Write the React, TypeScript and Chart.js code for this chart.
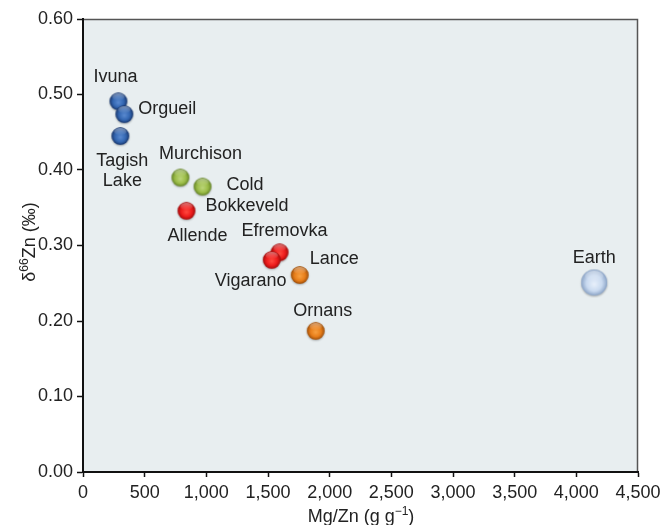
import React, { useEffect, useRef } from "react";
import { Chart, registerables } from "chart.js";

Chart.register(...registerables);

// ---- data ----
const names = ["Ivuna", "Orgueil", "Tagish Lake", "Murchison", "Cold Bokkeveld", "Allende", "Efremovka", "Vigarano", "Lance", "Ornans", "Earth"];
const mgZn = [287, 335, 303, 790, 969, 839, 1594, 1530, 1757, 1887, 4145];
const d66Zn = [0.491, 0.474, 0.445, 0.39, 0.378, 0.346, 0.291, 0.281, 0.261, 0.187, 0.251];
const groups = ["CI", "CI", "CI", "CM", "CM", "CV", "CV", "CV", "CO", "CO", "Earth"];
const xTicks = [0, 500, 1000, 1500, 2000, 2500, 3000, 3500, 4000, 4500];
const yTicks = [0, 0.1, 0.2, 0.3, 0.4, 0.5, 0.6];

// ---- styles ----
const groupColors: Record<string, { light: string; base: string; dark: string; r: number }> = {
  CI: { light: "#5a8ad0", base: "#3467b2", dark: "#1c3c74", r: 8.8 },
  CM: { light: "#bcd67a", base: "#9cbd48", dark: "#6a8a2a", r: 8.8 },
  CV: { light: "#ff4a40", base: "#ee1c1c", dark: "#a80d0d", r: 8.8 },
  CO: { light: "#f8a040", base: "#e87e1a", dark: "#a4520a", r: 8.8 },
  Earth: { light: "#e8f0fb", base: "#c9daf0", dark: "#8ea6c8", r: 13 },
};
const labelCfg = [
  { lines: ["Ivuna"], dx: -3, dy: -24, align: "center" },
  { lines: ["Orgueil"], dx: 14, dy: -5, align: "left" },
  { lines: ["Tagish", "Lake"], dx: 2, dy: 25, align: "center" },
  { lines: ["Murchison"], dx: 20, dy: -24, align: "center" },
  { lines: ["Cold", "Bokkeveld"], dx: 24, dy: -2, align: "left", alt: [0, 21] },
  { lines: ["Allende"], dx: 11, dy: 25, align: "center" },
  { lines: ["Efremovka"], dx: 5, dy: -21, align: "center" },
  { lines: ["Vigarano"], dx: -21, dy: 21, align: "center" },
  { lines: ["Lance"], dx: 10, dy: -16, align: "left" },
  { lines: ["Ornans"], dx: 7, dy: -20, align: "center" },
  { lines: ["Earth"], dx: 0, dy: -24, align: "center" },
];
const FONT = '"Liberation Sans", Arial, Helvetica, sans-serif';
const TEXT = "#222222";

function makeBall(g: { light: string; base: string; dark: string; r: number }) {
  const r = g.r;
  const size = Math.ceil(2 * r + 6);
  const c = document.createElement("canvas");
  c.width = size;
  c.height = size;
  const ctx = c.getContext("2d")!;
  const cx = size / 2;
  const cy = size / 2;
  ctx.save();
  ctx.shadowColor = "rgba(0,0,0,0.3)";
  ctx.shadowBlur = 2;
  ctx.shadowOffsetY = 1;
  const grad = ctx.createRadialGradient(cx, cy + r * 0.15, 0, cx, cy, r);
  grad.addColorStop(0, g.light);
  grad.addColorStop(0.6, g.base);
  grad.addColorStop(1, g.dark);
  ctx.fillStyle = grad;
  ctx.beginPath();
  ctx.arc(cx, cy, r, 0, Math.PI * 2);
  ctx.fill();
  ctx.restore();
  ctx.strokeStyle = g.dark;
  ctx.globalAlpha = 0.6;
  ctx.lineWidth = 0.8;
  ctx.beginPath();
  ctx.arc(cx, cy, r - 0.4, 0, Math.PI * 2);
  ctx.stroke();
  ctx.globalAlpha = 1;
  // glossy highlight
  const hg = ctx.createLinearGradient(0, cy - r, 0, cy - r * 0.1);
  hg.addColorStop(0, "rgba(255,255,255,0.45)");
  hg.addColorStop(1, "rgba(255,255,255,0)");
  ctx.fillStyle = hg;
  ctx.beginPath();
  ctx.ellipse(cx, cy - r * 0.5, r * 0.7, r * 0.42, 0, 0, Math.PI * 2);
  ctx.fill();
  return c;
}

function drawRich(ctx: CanvasRenderingContext2D, parts: { t: string; sup?: boolean }[], x: number, y: number) {
  const main = `18px ${FONT}`;
  const sup = `12px ${FONT}`;
  let w = 0;
  for (const p of parts) {
    ctx.font = p.sup ? sup : main;
    w += ctx.measureText(p.t).width;
  }
  let cx = x - w / 2;
  ctx.textAlign = "left";
  ctx.textBaseline = "alphabetic";
  for (const p of parts) {
    ctx.font = p.sup ? sup : main;
    ctx.fillText(p.t, cx, p.sup ? y - 7 : y);
    cx += ctx.measureText(p.t).width;
  }
}

const decorPlugin = {
  id: "decor",
  beforeDraw(chart: any) {
    const { ctx, chartArea: a } = chart;
    ctx.save();
    ctx.fillStyle = "#e8eef0";
    ctx.fillRect(a.left, a.top, a.right - a.left, a.bottom - a.top);
    ctx.strokeStyle = "#555555";
    ctx.lineWidth = 1.5;
    ctx.beginPath();
    ctx.moveTo(a.left, a.top + 0.5);
    ctx.lineTo(a.right - 0.5, a.top + 0.5);
    ctx.lineTo(a.right - 0.5, a.bottom);
    ctx.stroke();
    ctx.restore();
  },
  afterDatasetsDraw(chart: any) {
    const { ctx } = chart;
    const meta = chart.getDatasetMeta(0);
    ctx.save();
    ctx.fillStyle = TEXT;
    ctx.font = `18px ${FONT}`;
    ctx.textBaseline = "middle";
    labelCfg.forEach((cfg: any, i: number) => {
      const el = meta.data[i];
      if (!el) return;
      cfg.lines.forEach((line: string, j: number) => {
        let x = el.x + cfg.dx;
        let y = el.y + cfg.dy + j * 20.5;
        let align = cfg.align;
        if (cfg.alt && j === 1) {
          x = el.x + 3;
          y = el.y + 19;
          align = "left";
        }
        ctx.textAlign = align;
        ctx.fillText(line, x, y);
      });
    });
    ctx.restore();
  },
  afterDraw(chart: any) {
    const { ctx, chartArea: a } = chart;
    ctx.save();
    ctx.fillStyle = TEXT;
    drawRich(ctx, [{ t: "Mg/Zn (g g" }, { t: "\u22121", sup: true }, { t: ")" }], (a.left + a.right) / 2 + 0.5, 521.5);
    ctx.translate(35, 242);
    ctx.rotate(-Math.PI / 2);
    drawRich(ctx, [{ t: "\u03b4" }, { t: "66", sup: true }, { t: "Zn (\u2030)" }], 0, 0);
    ctx.restore();
  },
};

export default function App() {
  const ref = useRef<HTMLCanvasElement | null>(null);
  useEffect(() => {
    document.body.style.margin = "0";
    const canvas = ref.current!;
    const balls = groups.map((g) => makeBall(groupColors[g]));
    const chart = new Chart(canvas, {
      type: "scatter",
      data: {
        datasets: [
          {
            label: "Zn",
            data: mgZn.map((x, i) => ({ x, y: d66Zn[i] })),
            pointStyle: balls as any,
            pointRadius: groups.map((g) => groupColors[g].r),
            backgroundColor: groups.map((g) => groupColors[g].base),
          },
        ],
      },
      options: {
        responsive: false,
        animation: false,
        devicePixelRatio: 1,
        layout: { padding: { top: 19, right: 24, left: 0, bottom: 0 } },
        plugins: { legend: { display: false }, tooltip: { enabled: false }, title: { display: false } },
        scales: {
          x: {
            type: "linear",
            min: 0,
            max: 4500,
            afterFit: (s: any) => {
              s.height = 53;
              s.paddingLeft = 0;
              s.paddingRight = 0;
            },
            afterBuildTicks: (s: any) => {
              s.ticks = xTicks.map((v) => ({ value: v }));
            },
            ticks: {
              color: TEXT,
              font: { family: FONT, size: 18 },
              padding: 5,
              maxRotation: 0,
              autoSkip: false,
              callback: (v: any) => Number(v).toLocaleString("en-US"),
            },
            grid: { drawOnChartArea: false, drawTicks: true, tickLength: 5, tickWidth: 1.5, tickColor: "#111" },
            border: { color: "#111", width: 2 },
            title: { display: false },
          },
          y: {
            type: "linear",
            min: 0,
            max: 0.6,
            afterFit: (s: any) => {
              s.width = 83;
              s.paddingTop = 0;
              s.paddingBottom = 0;
            },
            afterBuildTicks: (s: any) => {
              s.ticks = yTicks.map((v) => ({ value: v }));
            },
            ticks: {
              color: TEXT,
              font: { family: FONT, size: 18 },
              padding: 4,
              autoSkip: false,
              callback: (v: any) => Number(v).toFixed(2),
            },
            grid: { drawOnChartArea: false, drawTicks: true, tickLength: 6, tickWidth: 1.5, tickColor: "#111" },
            border: { color: "#111", width: 2 },
            title: { display: false },
          },
        },
      },
      plugins: [decorPlugin],
    });
    return () => chart.destroy();
  }, []);
  return (
    <div style={{ width: 662, height: 525 }}>
      <canvas ref={ref} width={662} height={525} style={{ display: "block", width: 662, height: 525 }} />
    </div>
  );
}
